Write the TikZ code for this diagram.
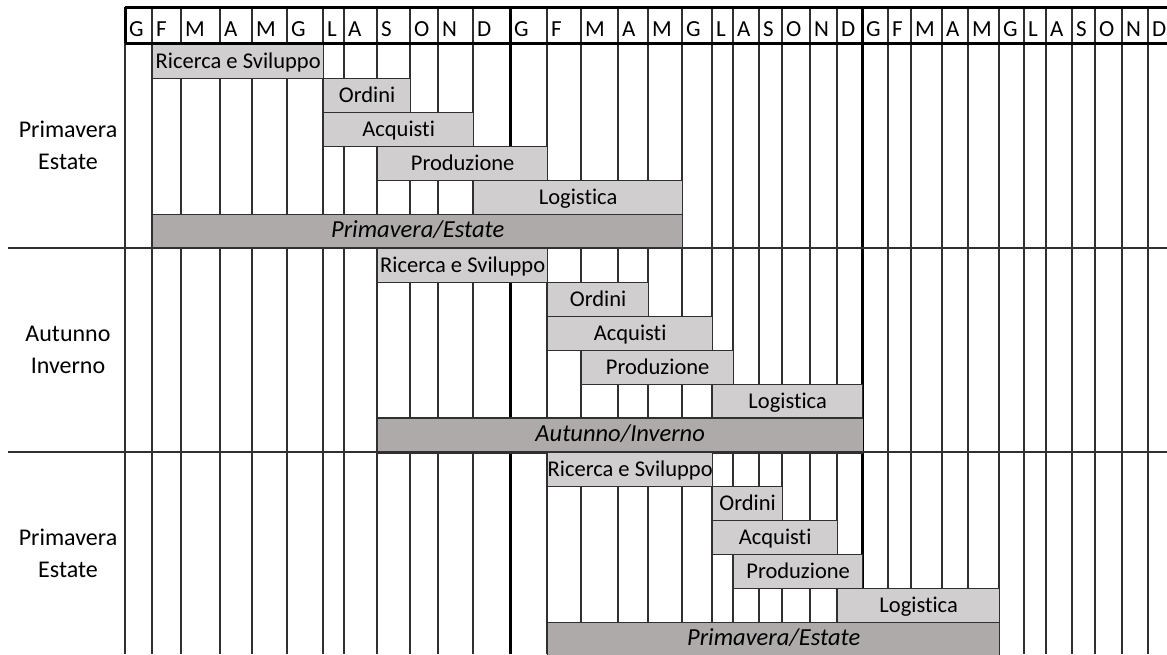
\documentclass[tikz,border=0pt]{standalone}
\usepackage{fontspec}
\setmainfont{Carlito}[Ligatures=NoCommon]
\definecolor{taskfill}{HTML}{D0CECE}
\definecolor{seasonfill}{HTML}{AEAAAA}
\definecolor{gridline}{HTML}{303030}

% one bar of the plan: name, left x, right x, top y, text, style
\newcommand\ganttbar[6]{%
  \node[#6, minimum width={#3-#2}] (#1) at (#2,#4) {#5};}

\begin{document}
\begin{tikzpicture}[x=1pt,y=-1pt,
  thinrule/.style={draw=gridline,line width=1.5pt},
  thickrule/.style={draw=black,line width=3pt},
  taskbar/.style={draw=gridline,line width=1.3pt,fill=taskfill,inner sep=0pt,
    anchor=north west,minimum height=34pt,
    font=\fontsize{22.5}{26}\selectfont,text height=1.45em,text depth=0.16em},
  seasonbar/.style={taskbar,fill=seasonfill,
    font=\fontsize{24.5}{28}\selectfont\itshape,text height=1.25em,text depth=0.16em},
  monthlabel/.style={anchor=base west,inner sep=0pt,font=\fontsize{23}{27}\selectfont},
  sidelabel/.style={anchor=base,align=center,inner sep=0pt,font=\fontsize{24}{32}\selectfont}]

\useasboundingbox (0,0) rectangle (1167,654);
\clip (0,0) rectangle (1167,654);

% month columns
\foreach \x in {125,152,181,220,252,287,323,344,377,410,438,473,
                547,581,618,648,682,712,733,759,782,810,837,
                888,911,942,968,999,1024,1046,1072,1095,1122,1148}
  \draw[thinrule] (\x,7) -- (\x,654);
% year boundaries
\foreach \x in {510,862}
  \draw[thickrule] (\x,7) -- (\x,654);

% bars, first season
\ganttbar{rsA}{152}{323}{44}{Ricerca e Sviluppo}{taskbar}
\ganttbar{orA}{323}{410}{78}{Ordini}{taskbar}
\ganttbar{acA}{323}{473}{112}{Acquisti}{taskbar}
\ganttbar{prA}{377}{547}{146}{Produzione}{taskbar}
\ganttbar{loA}{473}{682}{180}{Logistica}{taskbar}
\ganttbar{seA}{152}{682}{214}{Primavera/Estate}{seasonbar}

% bars, second season
\ganttbar{rsB}{377}{547}{248}{Ricerca e Sviluppo}{taskbar}
\ganttbar{orB}{547}{648}{282}{Ordini}{taskbar}
\ganttbar{acB}{547}{712}{316}{Acquisti}{taskbar}
\ganttbar{prB}{581}{733}{350}{Produzione}{taskbar}
\ganttbar{loB}{712}{862}{384}{Logistica}{taskbar}
\ganttbar{seB}{377}{862}{418}{Autunno/Inverno}{seasonbar,draw=none}
\draw[draw=gridline,line width=1.3pt]
  (seB.north east) -- (seB.north west) -- (seB.south west) -- (seB.south east);

% bars, third season
\ganttbar{rsC}{547}{712}{452}{Ricerca e Sviluppo}{taskbar}
\ganttbar{orC}{712}{782}{486}{Ordini}{taskbar}
\ganttbar{acC}{712}{837}{520}{Acquisti}{taskbar}
\ganttbar{prC}{733}{862}{554}{Produzione}{taskbar}
\ganttbar{loC}{837}{999}{588}{Logistica}{taskbar}
\ganttbar{seC}{547}{999}{622}{Primavera/Estate}{seasonbar}

% season separators
\draw[thinrule] (8,248) -- (1167,248);
\draw[thinrule] (8,452) -- (1167,452);

% header band
\draw[thickrule] (125,7) -- (1167,7);
\draw[thickrule] (125,43) -- (1167,43);
\draw[thickrule] (125,7) -- (125,43);

% month initials
\foreach \x/\m [count=\i] in {
   125/G,152/F,181/M,220/A,252/M,287/G,323/L,344/A,377/S,410/O,438/N,473/D,
   510/G,547/F,581/M,618/A,648/M,682/G,712/L,733/A,759/S,782/O,810/N,837/D,
   862/G,888/F,911/M,942/A,968/M,999/G,1024/L,1046/A,1072/S,1095/O,1122/N,1148/D}
  \node[monthlabel] (mese\i) at (\x+4,36) {\m};

% season names at the left (anchored on the second line)
\node[sidelabel] (stagA) at (68,169.5) {Primavera\\Estate};
\node[sidelabel] (stagB) at (68,373.5) {Autunno\\Inverno};
\node[sidelabel] (stagC) at (68,577.5) {Primavera\\Estate};
\end{tikzpicture}
\end{document}
